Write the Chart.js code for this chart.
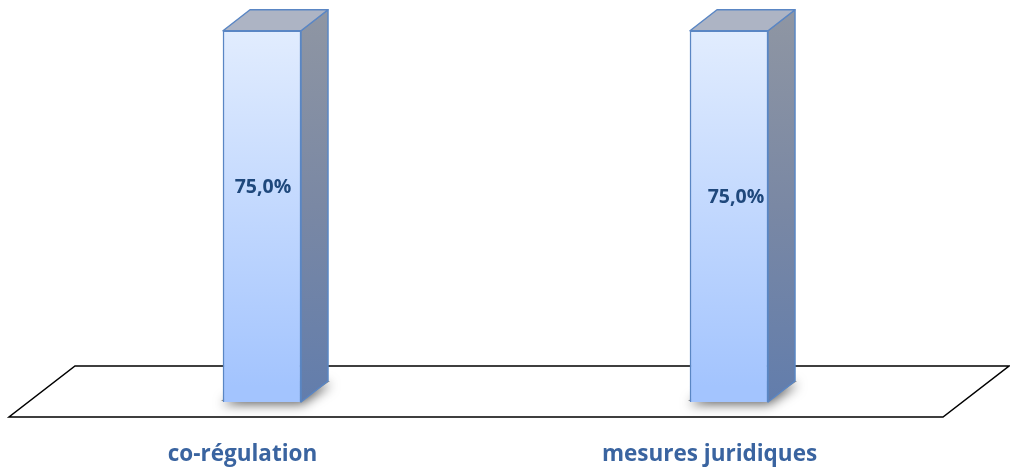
<!DOCTYPE html>
<html>
<head>
<meta charset="utf-8">
<script src="https://cdn.jsdelivr.net/npm/chart.js@4.4.1/dist/chart.umd.min.js"></script>
<style>
  html, body { margin: 0; padding: 0; background: #fff; }
  #wrap { width: 1010px; height: 468px; }
</style>
</head>
<body>
<div id="wrap"><canvas id="myChart"></canvas></div>
<script>
const categories = ['co-régulation', 'mesures juridiques'];
const values = [75.0, 75.0];
const valueLabels = ['75,0%', '75,0%'];

// fake 3D: floor depth, how far back the bars stand, and the bar depth
const floorDepth = { x: 66, y: -51 };
const barShift = { x: 19.5, y: -15 };
const barDepth = { x: 27, y: -21 };
const labelNudge = [{ x: 1, y: 1 }, { x: 7, y: 11 }];

const edgeColor = '#5A86C4';

const ctx = document.getElementById('myChart').getContext('2d');

function frontFill(context) {
    const chart = context.chart;
    const area = chart.chartArea;
    if (!area) return '#C5DAFE';
    const top = chart.scales.y.getPixelForValue(Math.max(...values)) + barShift.y;
    const g = chart.ctx.createLinearGradient(0, top, 0, area.bottom + barShift.y);
    g.addColorStop(0, '#E4EEFE');
    g.addColorStop(1, '#A3C4FE');
    return g;
}

const bar3d = {
    id: 'bar3d',
    beforeDatasetsDraw(chart) {
        const c = chart.ctx;
        const a = chart.chartArea;
        // floor
        c.save();
        c.beginPath();
        c.moveTo(a.left, a.bottom);
        c.lineTo(a.right, a.bottom);
        c.lineTo(a.right + floorDepth.x, a.bottom + floorDepth.y);
        c.lineTo(a.left + floorDepth.x, a.bottom + floorDepth.y);
        c.closePath();
        c.fillStyle = '#ffffff';
        c.fill();
        c.lineWidth = 1.5;
        c.strokeStyle = '#000000';
        c.stroke();
        c.restore();

        c.save();
        c.translate(barShift.x, barShift.y);
        // soft shadow under each bar
        chart.getDatasetMeta(0).data.forEach(bar => {
            const x0 = bar.x - bar.width / 2, x1 = bar.x + bar.width / 2;
            c.save();
            c.shadowColor = 'rgba(0,0,0,0.65)';
            c.shadowBlur = 12;
            c.shadowOffsetX = 1;
            c.shadowOffsetY = 3;
            c.fillStyle = '#888';
            c.beginPath();
            c.moveTo(x0 - 2, bar.base - 1);
            c.lineTo(x1, bar.base - 1);
            c.lineTo(x1 + barDepth.x + 2, bar.base + barDepth.y);
            c.lineTo(x0 + barDepth.x, bar.base + barDepth.y);
            c.closePath();
            c.fill();
            c.restore();
        });
    },
    afterDatasetsDraw(chart) {
        const c = chart.ctx;
        const meta = chart.getDatasetMeta(0);
        meta.data.forEach(bar => {
            const x0 = bar.x - bar.width / 2, x1 = bar.x + bar.width / 2;
            const y = bar.y, b = bar.base;
            c.lineWidth = 1.5;
            c.strokeStyle = edgeColor;
            c.lineJoin = 'round';
            // right side
            const g = c.createLinearGradient(0, y + barDepth.y, 0, b);
            g.addColorStop(0, '#8F96A3');
            g.addColorStop(0.5, '#7A88A4');
            g.addColorStop(1, '#627DAC');
            c.beginPath();
            c.moveTo(x1, y);
            c.lineTo(x1 + barDepth.x, y + barDepth.y);
            c.lineTo(x1 + barDepth.x, b + barDepth.y);
            c.lineTo(x1, b);
            c.closePath();
            c.fillStyle = g;
            c.fill();
            c.stroke();
            // top
            c.beginPath();
            c.moveTo(x0, y);
            c.lineTo(x0 + barDepth.x, y + barDepth.y);
            c.lineTo(x1 + barDepth.x, y + barDepth.y);
            c.lineTo(x1, y);
            c.closePath();
            c.fillStyle = '#ADB4C4';
            c.fill();
            c.stroke();
        });
        // value labels inside the bars
        c.font = 'bold 19.5px "Open Sans"';
        c.fillStyle = '#1F487C';
        c.textAlign = 'center';
        c.textBaseline = 'middle';
        meta.data.forEach((bar, i) => {
            const ly = bar.y + (bar.base - bar.y) * 0.42 + labelNudge[i].y;
            c.fillText(valueLabels[i], bar.x + labelNudge[i].x, ly);
        });
        c.restore();
    }
};

const chart = new Chart(ctx, {
    type: 'bar',
    data: {
        labels: categories,
        datasets: [{
            label: 'Valeur',
            data: values,
            backgroundColor: frontFill,
            borderColor: edgeColor,
            borderWidth: 1.5,
            barThickness: 78,
        }],
    },
    options: {
        responsive: true,
        maintainAspectRatio: false,
        animation: false,
        layout: {
            padding: { left: 9, right: 67, top: 21, bottom: 0 },
        },
        plugins: {
            legend: { display: false },
            tooltip: { enabled: false },
        },
        scales: {
            x: {
                grid: { display: false, drawTicks: false },
                border: { display: false },
                afterFit(scale) { scale.height = 51; },
                ticks: {
                    color: '#3A64A0',
                    padding: 24,
                    font: { family: 'Open Sans', weight: 'bold', size: 22.5 },
                },
            },
            y: {
                display: false,
                min: 0,
                max: 80,
            },
        },
    },
    plugins: [bar3d],
});
</script>
</body>
</html>
